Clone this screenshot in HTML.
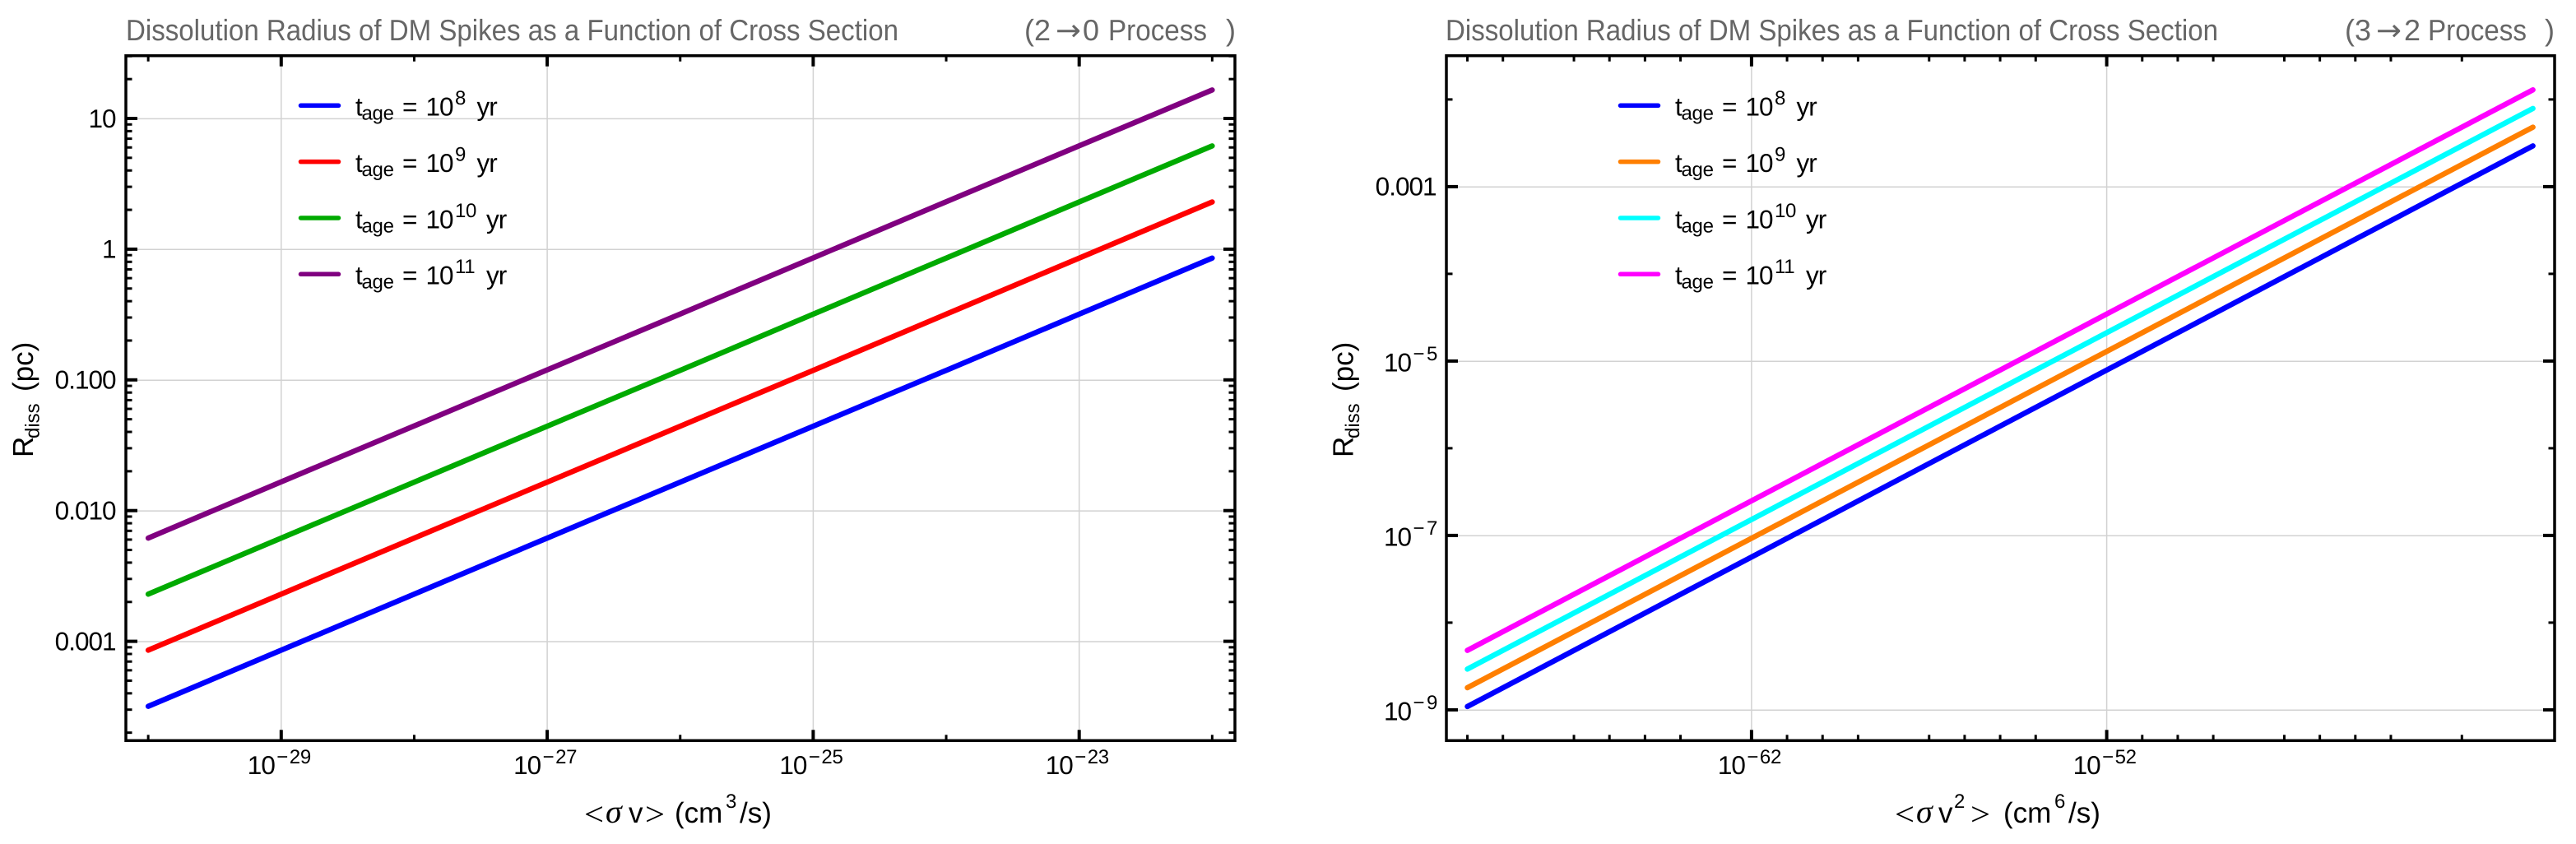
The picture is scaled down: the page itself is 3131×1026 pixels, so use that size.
<!DOCTYPE html>
<html lang="en">
<head>
<meta charset="utf-8">
<title>Dissolution Radius of DM Spikes</title>
<style>
html,body{margin:0;padding:0;background:#fff;width:3131px;height:1026px;overflow:hidden}
svg{display:block}
text{font-family:"Liberation Sans",sans-serif;fill:#000;text-rendering:geometricPrecision}
.title{font-size:36px;fill:#666}
.arrow{font-family:"DejaVu Sans",sans-serif;font-size:36px;fill:#666}
.tick{font-size:31.5px;letter-spacing:-1px}
.tick-sup{font-size:24px;letter-spacing:-.3px}
.lab{font-size:35px}
.sub{font-size:24px}
.serif{font-family:"Liberation Serif",serif;font-size:40px}
</style>
</head>
<body>
<svg id="figure" xmlns="http://www.w3.org/2000/svg" width="3131" height="1026" viewBox="0 0 3131 1026">
  <rect width="3131" height="1026" fill="#fff"/>
  <g id="left-marks"></g>
  <g id="right-marks"></g>

  <text class="title" x="153" y="49" textLength="939" lengthAdjust="spacingAndGlyphs">Dissolution Radius of DM Spikes as a Function of Cross Section</text>
  <g>
    <text class="title" x="1245" y="49">(</text>
    <text class="title" x="1257" y="49">2</text>
    <text class="arrow" x="1283" y="49" textLength="31" lengthAdjust="spacingAndGlyphs">→</text>
    <text class="title" x="1316" y="49">0</text>
    <text class="title" x="1347" y="49" textLength="120" lengthAdjust="spacingAndGlyphs">Process</text>
    <text class="title" x="1490" y="49">)</text>
  </g>

  <text class="title" x="1757" y="49" textLength="939" lengthAdjust="spacingAndGlyphs">Dissolution Radius of DM Spikes as a Function of Cross Section</text>
  <g>
    <text class="title" x="2850" y="49">(</text>
    <text class="title" x="2862" y="49">3</text>
    <text class="arrow" x="2888" y="49" textLength="31" lengthAdjust="spacingAndGlyphs">→</text>
    <text class="title" x="2922" y="49">2</text>
    <text class="title" x="2951" y="49" textLength="120" lengthAdjust="spacingAndGlyphs">Process</text>
    <text class="title" x="3093" y="49">)</text>
  </g>

  <g>
    <text class="serif" x="710" y="1003" textLength="24" lengthAdjust="spacingAndGlyphs">&lt;</text>
    <text class="serif" x="736" y="1000" font-style="italic" textLength="26" lengthAdjust="spacing">σ</text>
    <text class="lab" x="764" y="1000">v</text>
    <text class="serif" x="784" y="1003" textLength="24" lengthAdjust="spacingAndGlyphs">&gt;</text>
    <text class="lab" x="820" y="1000">(cm</text>
    <text class="sub" x="882" y="982">3</text>
    <text class="lab" x="899" y="1000">/s)</text>
  </g>
  <g>
    <text class="serif" x="2303" y="1003" textLength="24" lengthAdjust="spacingAndGlyphs">&lt;</text>
    <text class="serif" x="2329" y="1000" font-style="italic" textLength="26" lengthAdjust="spacing">σ</text>
    <text class="lab" x="2356" y="1000">v</text>
    <text class="sub" x="2375" y="982">2</text>
    <text class="serif" x="2395" y="1003" textLength="24" lengthAdjust="spacingAndGlyphs">&gt;</text>
    <text class="lab" x="2435" y="1000">(cm</text>
    <text class="sub" x="2497" y="982">6</text>
    <text class="lab" x="2514" y="1000">/s)</text>
  </g>
  <g>
    <text class="lab" transform="translate(40,556) rotate(-90)">R</text>
    <text class="sub" transform="translate(47.5,533) rotate(-90)">diss</text>
    <text class="lab" transform="translate(40,476) rotate(-90)">(pc)</text>
  </g>
  <g>
    <text class="lab" transform="translate(1644.5,556) rotate(-90)">R</text>
    <text class="sub" transform="translate(1652,533) rotate(-90)">diss</text>
    <text class="lab" transform="translate(1644.5,476) rotate(-90)">(pc)</text>
  </g>
</svg>
<script>
// ---------- left panel data (2->0 process) ----------
var leftCrossSection = [1e-30,1e-29,1e-28,1e-27,1e-26,1e-25,1e-24,1e-23,1e-22];
var leftBlue   = [0.00032,0.00086,0.00231,0.0062,0.0166,0.0445,0.119,0.32,0.86];
var leftRed    = [0.00086,0.00231,0.0062,0.0166,0.0445,0.119,0.32,0.86,2.31];
var leftGreen  = [0.00231,0.0062,0.0166,0.0445,0.119,0.32,0.86,2.31,6.2];
var leftPurple = [0.0062,0.0167,0.0447,0.12,0.321,0.863,2.32,6.21,16.6];
var leftXMajorExps = [-29,-27,-25,-23];
var leftXMinorExps = [-30,-28,-26,-24,-22];
var leftYMajorExps = [-3,-2,-1,0,1];
var leftYLabels = ['0.001','0.010','0.100','1','10'];
var leftYMinorValues = [2e-4,3e-4,4e-4,5e-4,6e-4,7e-4,8e-4,9e-4,
  2e-3,3e-3,4e-3,5e-3,6e-3,7e-3,8e-3,9e-3,
  .02,.03,.04,.05,.06,.07,.08,.09,
  .2,.3,.4,.5,.6,.7,.8,.9,
  2,3,4,5,6,7,8,9,20,30];

// ---------- right panel data (3->2 process) ----------
var rightCrossSection = [1e-70,1e-65,1e-60,1e-55,1e-50,1e-45,1e-40];
var rightBlue    = [1.10e-9,1.30e-8,1.53e-7,1.81e-6,2.13e-5,2.51e-4,2.96e-3];
var rightOrange  = [1.81e-9,2.13e-8,2.51e-7,2.96e-6,3.49e-5,4.12e-4,4.85e-3];
var rightCyan    = [2.96e-9,3.49e-8,4.12e-7,4.85e-6,5.72e-5,6.75e-4,7.95e-3];
var rightMagenta = [4.85e-9,5.72e-8,6.75e-7,7.95e-6,9.37e-5,1.105e-3,1.30e-2];
var rightXMajorExps = [-62,-52];
var rightXMinorExps = [-70,-69,-67,-66,-65,-64,-61,-60,-59,-57,-56,-55,-54,-51,-50,-49,-47,-46,-45,-44,-42];
var rightYMajorExps = [-9,-7,-5,-3];
var rightYLabels = ['-9','-7','-5','0.001'];
var rightYMinorExps = [-8,-6,-4,-2];

// ---------- legend data ----------
var legendExponents = ['8','9','10','11'];
var leftColors = ['#0000ff','#ff0000','#00aa00','#800080'];
var rightColors = ['#0000ff','#ff7f00','#00ffff','#ff00ff'];

// ---------- axis functions ----------
function leftX(v){return 341.8+(Math.log10(v)+29)*161.65;}
function leftY(v){return 303.3-Math.log10(v)*158.9;}
function rightX(v){return 2128.9+(Math.log10(v)+62)*43.17;}
function rightY(v){return 227.3-(Math.log10(v)+3)*106;}

var NS='http://www.w3.org/2000/svg';
function make(tag,parent,attrs){
  var e=document.createElementNS(NS,tag);
  for(var k in attrs){e.setAttribute(k,attrs[k]);}
  parent.appendChild(e);
  return e;
}
function line(parent,x1,y1,x2,y2,stroke,w){
  return make('line',parent,{x1:x1,y1:y1,x2:x2,y2:y2,stroke:stroke,'stroke-width':w});
}
function label(parent,x,y,cls,str,anchor){
  var t=make('text',parent,{x:x,y:y,'class':cls,'text-anchor':anchor||'start'});
  t.textContent=str;
  return t;
}

function drawPanel(g,o){
  // gridlines
  o.xMajor.forEach(function(e){
    var x=o.X(Math.pow(10,e));
    var l=line(g,x,o.top,x,o.bottom,'#d2d2d2',1.5);
    
    
  });
  o.yMajor.forEach(function(e){
    var y=o.Y(Math.pow(10,e));
    var l=line(g,o.left,y,o.right,y,'#d2d2d2',1.5);
    
    
  });
  // series
  o.series.forEach(function(s,si){
    var pts=s.map(function(v,j){return o.X(o.xs[j]).toFixed(2)+','+o.Y(v).toFixed(2);}).join(' ');
    var p=make('polyline',g,{points:pts,fill:'none',stroke:o.colors[si],'stroke-width':6.5,'stroke-linecap':'round','stroke-linejoin':'round'});
    
    
  });
  // x ticks on bottom and top
  o.xMajor.forEach(function(e){
    var x=o.X(Math.pow(10,e));
    var a=line(g,x,o.bottom,x,o.bottom-13,'#000',4);
    
    
    var b=line(g,x,o.top,x,o.top+13,'#000',4);
    
    
    var t1=label(g,x-41,941,'tick','10');
    
    
    var t2=label(g,x-5.5,928,'tick-sup','\u2212');
    
    
    var t3=label(g,x+10,928,'tick-sup',String(Math.abs(e)));
    
    
  });
  o.xMinor.forEach(function(e){
    var x=o.X(Math.pow(10,e));
    var a=line(g,x,o.bottom,x,o.bottom-7,'#000',3);
    
    
    var b=line(g,x,o.top,x,o.top+7,'#000',3);
    
    
  });
  // y ticks on left and right
  o.yMajor.forEach(function(e,idx){
    var y=o.Y(Math.pow(10,e))-0.4;
    var a=line(g,o.left,y,o.left+14,y,'#000',4);
    
    
    var b=line(g,o.right,y,o.right-14,y,'#000',4);
    
    
    var txt=o.yLabels[idx];
    if(txt.charAt(0)==='-'){
      var t1=label(g,o.left-76,y+12.4,'tick','10');
      
      
      var t2=label(g,o.left-40.5,y-1,'tick-sup','\u2212');
      
      
      var t3=label(g,o.left-24,y-1,'tick-sup',txt.slice(1));
      
      
    } else {
      var t=label(g,o.left-12.5,y+10.8,'tick',txt,'end');
      
      
    }
  });
  o.yMinor.forEach(function(v){
    var y=o.Y(v)-0.4;
    var a=line(g,o.left,y,o.left+7.5,y,'#000',3);
    
    
    var b=line(g,o.right,y,o.right-7.5,y,'#000',3);
    
    
  });
  // spines
  var frame=make('rect',g,{x:o.left,y:o.top,width:o.right-o.left,height:o.bottom-o.top,fill:'none',stroke:'#000','stroke-width':3.5});
  
  
  // legend
  legendExponents.forEach(function(ex,k){
    var base=140.7+k*68.33;
    var cy=128.3+k*68.33;
    var lx=o.legendX;
    var entry=make('g',g,{});
    
    
    var h=make('line',entry,{x1:lx+2.5,y1:cy,x2:lx+48.5,y2:cy,stroke:o.colors[k],'stroke-width':5.5,'stroke-linecap':'round'});
    
    
    var tx=lx+69;
    var a=label(entry,tx,base,'tick','t');
    
    
    var b=label(entry,tx+7.5,base+5,'tick-sup','age');
    
    
    var c=label(entry,tx+57,base,'tick','=');
    
    
    var d=label(entry,tx+85.5,base,'tick','10');
    
    
    var f=label(entry,tx+121,base-13.5,'tick-sup',ex);
    
    
    var u=label(entry,tx+(ex.length>1?159:147.5),base,'tick','yr');
    
    
  });
}

drawPanel(document.getElementById('left-marks'),{
  left:153,right:1501,top:67.7,bottom:900.3,X:leftX,Y:leftY,
  xs:leftCrossSection,series:[leftBlue,leftRed,leftGreen,leftPurple],colors:leftColors,
  xMajor:leftXMajorExps,xMinor:leftXMinorExps,yMajor:leftYMajorExps,yLabels:leftYLabels,yMinor:leftYMinorValues,
  legendX:363
});
drawPanel(document.getElementById('right-marks'),{
  left:1758,right:3105,top:67.7,bottom:900.3,X:rightX,Y:rightY,
  xs:rightCrossSection,series:[rightBlue,rightOrange,rightCyan,rightMagenta],colors:rightColors,
  xMajor:rightXMajorExps,xMinor:rightXMinorExps,yMajor:rightYMajorExps,yLabels:rightYLabels,
  yMinor:rightYMinorExps.map(function(e){return Math.pow(10,e);}),
  legendX:1967
});
</script>
</body>
</html>
